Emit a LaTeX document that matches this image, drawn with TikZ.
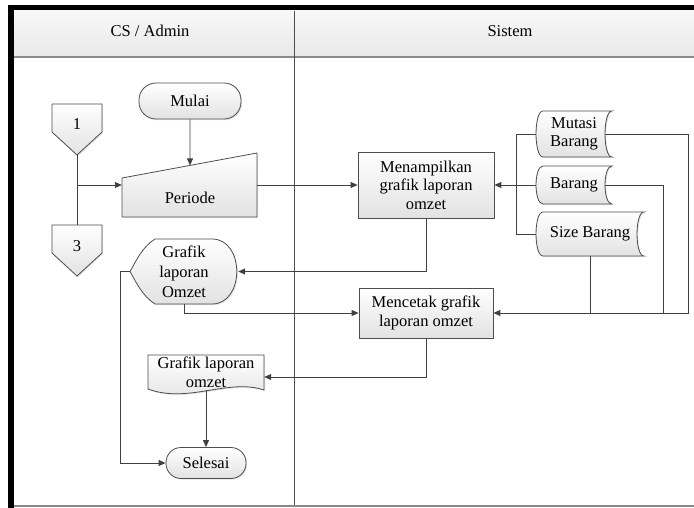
\documentclass[tikz,border=0pt]{standalone}
\usepackage{fontspec}
\setmainfont{Liberation Serif}
\usetikzlibrary{arrows.meta,calc,shadows}

\definecolor{linegray}{HTML}{404040}
\definecolor{edgegray}{HTML}{4D4D4D}
\definecolor{fillbot}{HTML}{E2E2E2}
\definecolor{headtop}{HTML}{F8F8F8}
\definecolor{headbot}{HTML}{E8E8E8}
\definecolor{rulegray}{HTML}{8A8A8A}

\begin{document}
\begin{tikzpicture}[x=1pt,y=-1pt,
  font=\fontsize{16.5}{18.5}\selectfont,
  symbolfill/.style={draw=edgegray,line width=0.8pt,top color=white,bottom color=fillbot,
    drop shadow={shadow xshift=1.2pt,shadow yshift=-1.2pt,opacity=0.2}},
  procbox/.style={symbolfill,rectangle,minimum width=136pt,minimum height=66pt,align=center,inner sep=2pt},
  terminal/.style={symbolfill,rectangle,inner sep=2pt},
  frame/.style={rectangle,inner sep=0pt,align=center},
  flow/.style={draw=linegray,line width=0.9pt,-{Triangle[length=7pt,width=6pt]}},
  link/.style={draw=linegray,line width=0.9pt},
]
\useasboundingbox (0,0) rectangle (694,508);
\fill[white] (0,0) rectangle (694,508);

% outer frame and swimlane header
\fill[black] (8,5) rectangle (694,11);
\fill[black] (8,5) rectangle (14,508);
\shade[top color=headtop,bottom color=headbot] (14,11) rectangle (694,57);
\draw[rulegray,line width=1.6pt] (14,57) -- (694,57);
\draw[edgegray,line width=1pt] (294,11) -- (294,506);
\draw[rulegray,line width=1.2pt] (14,506) -- (694,506);
\node[frame] (lanecs) at (150,31) {CS / Admin};
\node[frame] (lanesys) at (510,31) {Sistem};

% off-page connectors
\path[symbolfill] (52,104) -- (102,104) -- (102,132) -- (77,155) -- (52,132) -- cycle;
\node[frame,minimum width=50pt,minimum height=51pt] (off1) at (77,129.5) {};
\node[frame] (off1txt) at (77,124) {1};
\path[symbolfill] (52,225) -- (102,225) -- (102,253) -- (77,276) -- (52,253) -- cycle;
\node[frame,minimum width=50pt,minimum height=51pt] (off3) at (77,250.5) {};
\node[frame] (off3txt) at (77,246) {3};

% start terminal
\node[terminal,rounded corners=17pt,minimum width=102pt,minimum height=36pt] (mulai) at (190,101) {Mulai};

% manual input: Periode
\path[symbolfill] (122,178) -- (257,153) -- (257,217) -- (122,217) -- cycle;
\node[frame,minimum width=135pt,minimum height=64pt] (periode) at (189.5,185) {};
\node[frame] (periodetxt) at (190,198) {Periode};
\coordinate (pTL) at (122,178);
\coordinate (pTR) at (257,153);
\coordinate (slant) at ($(pTL)!0.5037!(pTR)$);

% processes
\node[procbox] (tampil) at (426,185) {Menampilkan\\grafik laporan\\omzet};
\node[procbox,minimum width=134pt,minimum height=50pt] (cetak) at (426,313) {Mencetak grafik\\laporan omzet};

% stored data
\path[symbolfill] (543,111) -- (612,111) .. controls (602.7,111) and (602.7,157) .. (612,157)
  -- (543,157) .. controls (533.7,157) and (533.7,111) .. (543,111) -- cycle;
\node[frame,minimum width=76pt,minimum height=46pt] (mutasi) at (574,134) {Mutasi\\Barang};
\path[symbolfill] (543,166) -- (612,166) .. controls (602.7,166) and (602.7,204) .. (612,204)
  -- (543,204) .. controls (533.7,204) and (533.7,166) .. (543,166) -- cycle;
\node[frame,minimum width=76pt,minimum height=38pt] (barang) at (574,185) {Barang};
\path[symbolfill] (543,212) -- (644,212) .. controls (634.7,212) and (634.7,256) .. (644,256)
  -- (543,256) .. controls (533.7,256) and (533.7,212) .. (543,212) -- cycle;
\node[frame,minimum width=108pt,minimum height=44pt] (sizeb) at (590,234) {Size Barang};

% display
\path[symbolfill] (155,239) -- (212,239) .. controls (245,239) and (245,304) .. (212,304)
  -- (155,304) .. controls (142,296) and (135,280) .. (130,271.5)
  .. controls (135,263) and (142,247) .. (155,239) -- cycle;
\node[frame,minimum width=108pt,minimum height=65pt,font=\fontsize{16.5}{20}\selectfont] (disp) at (184,271.5) {Grafik\\laporan\\Omzet};

% document
\path[symbolfill] (148,355) -- (264,355) -- (264,390) .. controls (228,378) and (188,404) .. (148,389) -- cycle;
\node[frame,minimum width=116pt,minimum height=35pt,font=\fontsize{16.5}{19.5}\selectfont] (doc) at (206,372.5) {Grafik laporan\\omzet};

% end terminal
\node[terminal,rounded corners=15pt,minimum width=80pt,minimum height=31pt] (selesai) at (206,463) {Selesai};

% connectors
\draw[link] (off1.south) -- (off3.north);
\draw[flow] (off1.south |- periode.west) -- (periode.west);
\draw[flow] (mulai.south) -- (slant);
\draw[flow] (periode.east) -- (tampil.west);
\draw[flow] (barang.west) -- (tampil.east);
\draw[link] (mutasi.west) -- ++(-19,0) |- (sizeb.west);
\draw[flow] ([xshift=-7pt]mutasi.east) -| ([xshift=195pt]cetak.east) -- (cetak.east);
\draw[link] ([xshift=-7pt]barang.east) -| ([xshift=170pt]cetak.east);
\draw[link] (sizeb.south) -- (sizeb.south |- cetak.east);
\draw[flow] (tampil.south) |- (disp.east);
\draw[flow] (disp.south) |- (cetak.west);
\draw[flow] (cetak.south) |- ([yshift=-4.5pt]doc.east);
\draw[flow] (doc.south) -- (selesai.north);
\draw[flow] (disp.west) -- ++(-9,0) |- (selesai.west);
\end{tikzpicture}
\end{document}
